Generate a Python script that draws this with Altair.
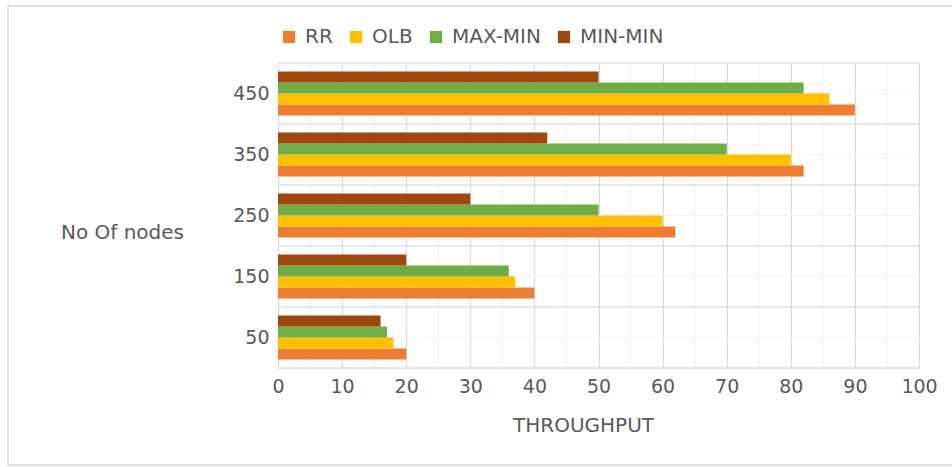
import altair as alt
import pandas as pd

# Throughput per scheduling algorithm and node count
nodes = ["50", "150", "250", "350", "450"]
rr = [20, 40, 62, 82, 90]
olb = [18, 37, 60, 80, 86]
max_min = [17, 36, 50, 70, 82]
min_min = [16, 20, 30, 42, 50]

algorithms = ["RR", "OLB", "MAX-MIN", "MIN-MIN"]
colors = ["#ED7D31", "#FFC000", "#70AD47", "#9E480E"]
x_ticks = list(range(0, 101, 10))
x_minor = list(range(5, 100, 10))

series = {"RR": rr, "OLB": olb, "MAX-MIN": max_min, "MIN-MIN": min_min}
rows = []
for algo in algorithms:
    for n, v in zip(nodes, series[algo]):
        rows.append({"nodes": n, "algo": algo, "value": v})
df = pd.DataFrame(rows)

TEXT = "#595959"
FONT_SIZE = 19
TITLE_SIZE = 20

x_scale = alt.Scale(domain=[0, 100], nice=False, zero=True)
x_axis = alt.Axis(
    values=x_ticks,
    title="THROUGHPUT",
    grid=True,
    gridColor="#D9D9D9",
    gridWidth=1.2,
    domain=False,
    ticks=False,
    labelFontSize=FONT_SIZE,
    labelColor=TEXT,
    labelPadding=9,
    labelFlush=False,
    titleFontSize=TITLE_SIZE,
    titleFontWeight="normal",
    titleColor=TEXT,
    titleX=305,
    titleY=57,
    titleBaseline="middle",
    titleAlign="center",
)

# Band boundaries and band centres for the horizontal grid
n_bands = len(nodes)
h_major = pd.DataFrame({"pos": list(range(0, n_bands + 1))})
h_minor = pd.DataFrame({"pos": [i + 0.5 for i in range(n_bands)]})
v_minor = pd.DataFrame({"value": x_minor})

band_scale = alt.Scale(domain=[0, n_bands], nice=False, zero=True)

grid_h_minor = alt.Chart(h_minor).mark_rule(color="#EEF2F7", strokeWidth=1).encode(
    y=alt.Y("pos:Q", scale=band_scale, axis=None)
)
grid_h_major = alt.Chart(h_major).mark_rule(color="#C9D5E4", strokeWidth=1.2).encode(
    y=alt.Y("pos:Q", scale=band_scale, axis=None)
)
grid_v_minor = alt.Chart(v_minor).mark_rule(color="#EFEFEF", strokeWidth=1).encode(
    x=alt.X("value:Q", scale=x_scale, axis=x_axis)
)

grid = alt.layer(grid_h_minor, grid_v_minor, grid_h_major)

bars = alt.Chart(df).mark_bar(size=11).encode(
    x=alt.X("value:Q", scale=x_scale, axis=x_axis),
    y=alt.Y(
        "nodes:N",
        sort=list(reversed(nodes)),
        scale=alt.Scale(paddingInner=0.28, paddingOuter=0.14),
        axis=alt.Axis(
            title="No Of nodes",
            titleAngle=0,
            titleX=-156,
            titleY=169,
            titleAlign="center",
            titleBaseline="middle",
            titleFontSize=TITLE_SIZE,
            titleFontWeight="normal",
            titleColor=TEXT,
            labelFontSize=FONT_SIZE,
            labelColor=TEXT,
            labelPadding=9,
            ticks=False,
            domain=True,
            domainColor="#D9D9D9",
            grid=False,
        ),
    ),
    yOffset=alt.YOffset(
        "algo:N",
        sort=list(reversed(algorithms)),
        scale=alt.Scale(paddingInner=0, paddingOuter=0),
    ),
    color=alt.Color(
        "algo:N",
        scale=alt.Scale(domain=algorithms, range=colors),
        legend=alt.Legend(
            title=None,
            orient="none",
            legendX=1,
            legendY=-36,
            padding=0,
            direction="horizontal",
            symbolType="square",
            symbolSize=150,
            symbolStrokeWidth=0,
            labelFontSize=TITLE_SIZE,
            labelColor=TEXT,
            labelOffset=6,
            columnPadding=13,
        ),
    ),
)

# Light frame around the whole figure
frame = alt.Chart(pd.DataFrame({"k": [0]})).mark_rect(
    fill=None, stroke="#D9D9D9", strokeWidth=1.5
).encode(
    x=alt.value(-270), x2=alt.value(690), y=alt.value(-57), y2=alt.value(402)
)

chart = (
    alt.layer(grid, bars, frame)
    .resolve_scale(y="independent")
    .properties(
        width=641,
        height=305,
        autosize=alt.AutoSizeParams(type="none"),
        padding={"left": 278, "top": 63, "right": 33, "bottom": 99},
        background="white",
    )
    .configure(font="DejaVu Sans")
    .configure_view(stroke=None)
)

chart.save("out.html", embed_options={"renderer": "svg", "actions": False})
